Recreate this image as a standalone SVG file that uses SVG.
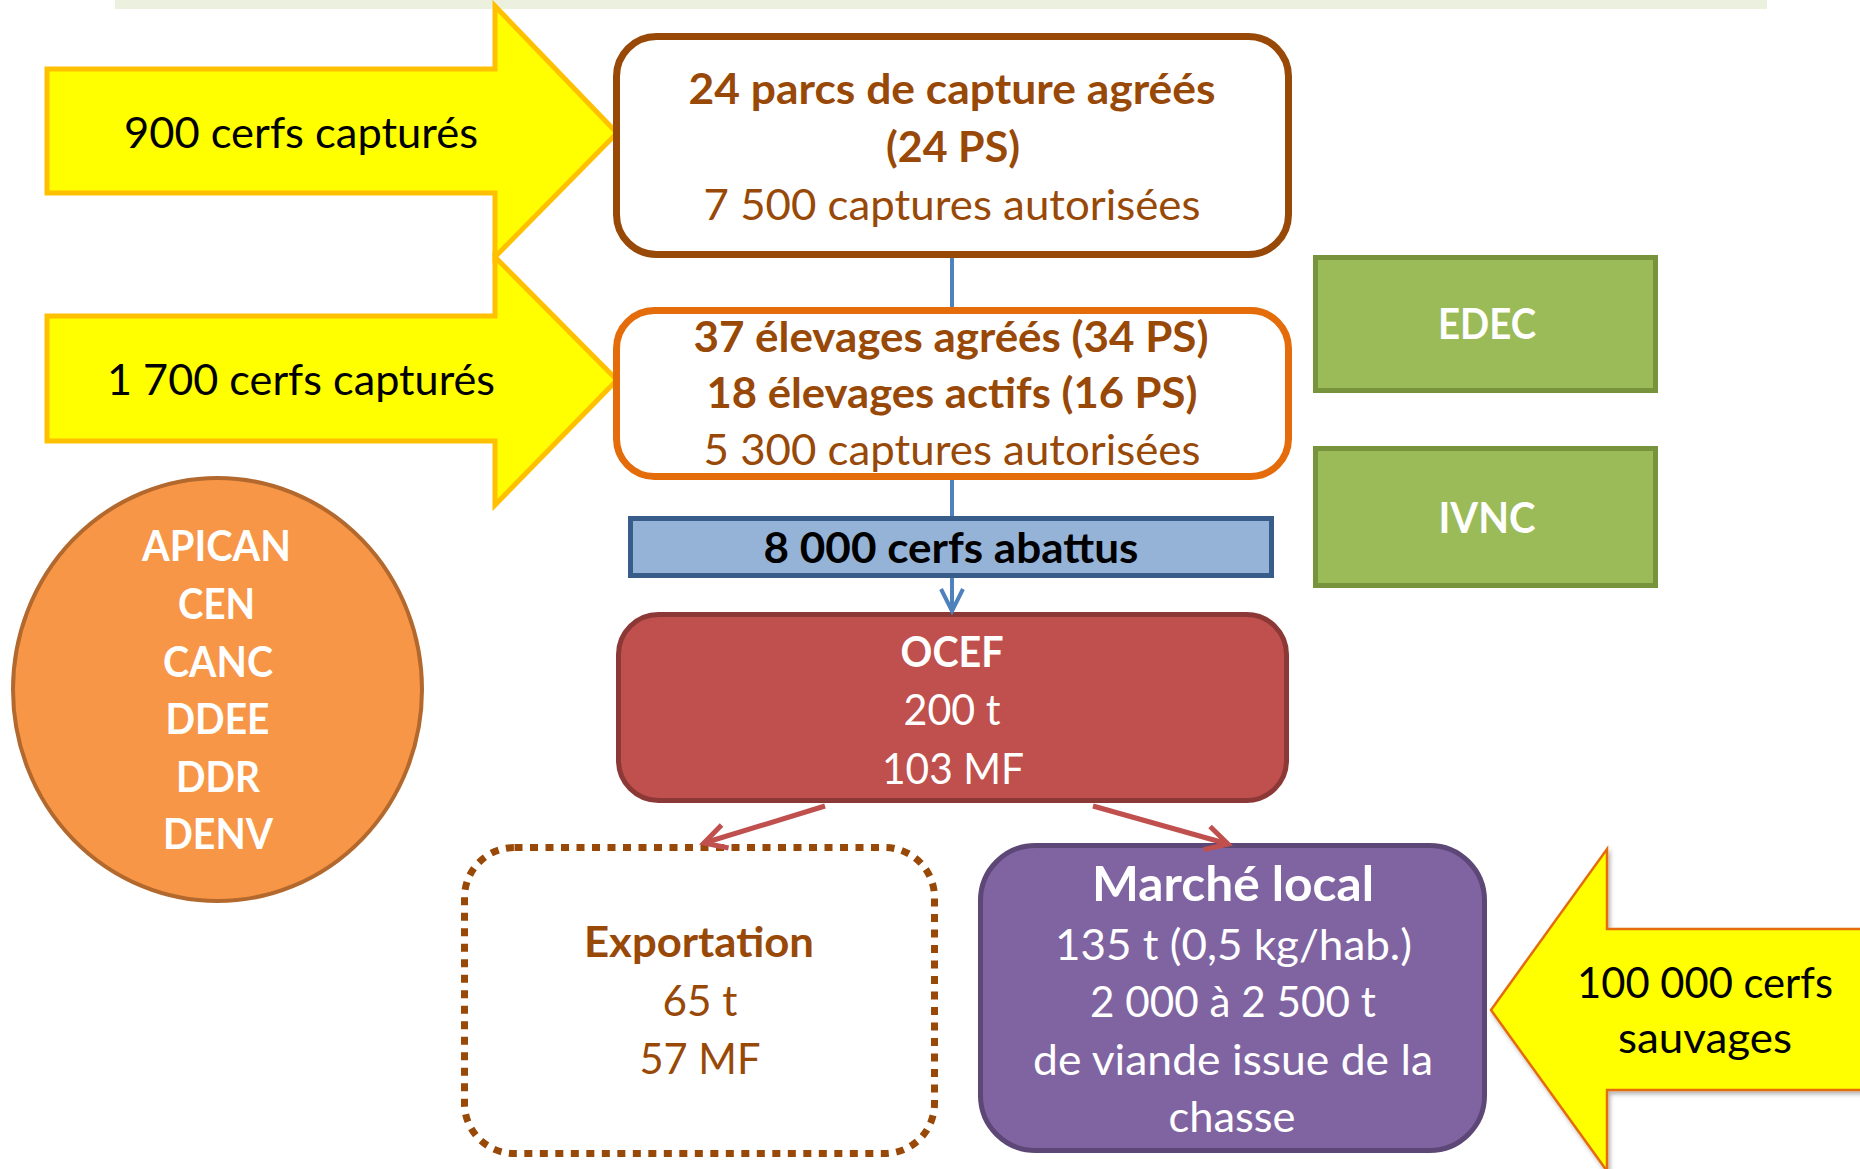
<svg xmlns="http://www.w3.org/2000/svg" width="1860" height="1169" viewBox="0 0 1860 1169">
<defs>
<style>
.t{font-family:Lato,'Liberation Sans',sans-serif;font-size:42px;text-anchor:middle;}
.b{font-weight:bold;}
.br{fill:#984807;}
.w{fill:#ffffff;}
.k{fill:#000000;}
.yarrow{fill:#FFFF00;stroke:#FFC000;stroke-width:5;stroke-linejoin:miter;}
.conn-blue{stroke:#4F81BD;stroke-width:4;fill:none;}
.conn-red{stroke:#C0504D;stroke-width:5;fill:none;}
</style>
<marker id="arrBlue" markerUnits="userSpaceOnUse" orient="auto" refX="0" refY="0" markerWidth="30" markerHeight="30" overflow="visible">
<path d="M-22,-11 L0,0 L-22,11" fill="none" stroke="#4F81BD" stroke-width="4"/>
</marker>
<marker id="arrRed" markerUnits="userSpaceOnUse" orient="auto" refX="0" refY="0" markerWidth="30" markerHeight="30" overflow="visible">
<path d="M-22,-12 L0,0 L-22,12" fill="none" stroke="#C0504D" stroke-width="5"/>
</marker>
<filter id="shadow" x="-10%" y="-10%" width="130%" height="130%">
<feDropShadow dx="2" dy="3" stdDeviation="2" flood-color="#000" flood-opacity="0.3"/>
</filter>
</defs>
<rect x="115" y="0" width="1652" height="9" fill="#EBF1DE"/>

<g id="arrow-900">
<polygon class="yarrow" points="47,69 495,69 495,6 617,133 495,257 495,193 47,193"/>
<text class="t k" x="301" y="148" textLength="354" lengthAdjust="spacingAndGlyphs">900 cerfs capturés</text>
</g>
<g id="arrow-1700">
<polygon class="yarrow" points="47,316 495,316 495,257 617,380 495,505 495,441 47,441"/>
<text class="t k" x="301" y="395" textLength="388" lengthAdjust="spacingAndGlyphs">1 700 cerfs capturés</text>
</g>
<g id="arrow-sauvages">
<polygon points="1491,1010 1607,849 1607,929 1875,929 1875,1090 1607,1090 1607,1171" fill="#FFFF00" stroke="#E46C0A" stroke-width="2.5" filter="url(#shadow)"/>
<text class="t k" x="1705" y="998" textLength="256" lengthAdjust="spacingAndGlyphs">100 000 cerfs</text>
<text class="t k" x="1705" y="1053" textLength="174" lengthAdjust="spacingAndGlyphs">sauvages</text>
</g>

<g id="parcs">
<rect x="616.5" y="36.5" width="672" height="218" rx="40" fill="#ffffff" stroke="#984807" stroke-width="7"/>
<text class="t b br" x="952" y="104" textLength="527" lengthAdjust="spacingAndGlyphs">24 parcs de capture agréés</text>
<text class="t b br" x="953" y="162" textLength="134" lengthAdjust="spacingAndGlyphs">(24 PS)</text>
<text class="t br" x="952" y="220" textLength="497" lengthAdjust="spacingAndGlyphs">7 500 captures autorisées</text>
</g>
<g id="elevages">
<rect x="616.5" y="310.5" width="672" height="166" rx="38" fill="#ffffff" stroke="#E46C0A" stroke-width="7"/>
<text class="t b br" x="951" y="352" textLength="515" lengthAdjust="spacingAndGlyphs">37 élevages agréés (34 PS)</text>
<text class="t b br" x="952" y="408" textLength="491" lengthAdjust="spacingAndGlyphs">18 élevages actifs (16 PS)</text>
<text class="t br" x="952" y="465" textLength="497" lengthAdjust="spacingAndGlyphs">5 300 captures autorisées</text>
</g>
<g id="abattus">
<rect x="630.5" y="518.5" width="641" height="57" fill="#95B3D7" stroke="#385D8A" stroke-width="5"/>
<text class="t b k" x="951" y="563" textLength="375" lengthAdjust="spacingAndGlyphs">8 000 cerfs abattus</text>
</g>
<g id="edec">
<rect x="1315.5" y="257.5" width="340" height="133" fill="#9BBB59" stroke="#77933C" stroke-width="5"/>
<text class="t b w" x="1487" y="339" textLength="98" lengthAdjust="spacingAndGlyphs">EDEC</text>
</g>
<g id="ivnc">
<rect x="1315.5" y="448.5" width="340" height="137" fill="#9BBB59" stroke="#77933C" stroke-width="5"/>
<text class="t b w" x="1487" y="533" textLength="97" lengthAdjust="spacingAndGlyphs">IVNC</text>
</g>
<g id="acteurs">
<ellipse cx="217.5" cy="689.5" rx="204.5" ry="211.5" fill="#F79646" stroke="#B3692D" stroke-width="4"/>
<text class="t b w" x="216.5" y="561" textLength="149" lengthAdjust="spacingAndGlyphs">APICAN</text>
<text class="t b w" x="216.5" y="619" textLength="77" lengthAdjust="spacingAndGlyphs">CEN</text>
<text class="t b w" x="218" y="677" textLength="110" lengthAdjust="spacingAndGlyphs">CANC</text>
<text class="t b w" x="217.5" y="734" textLength="104" lengthAdjust="spacingAndGlyphs">DDEE</text>
<text class="t b w" x="218" y="792" textLength="84" lengthAdjust="spacingAndGlyphs">DDR</text>
<text class="t b w" x="218" y="849" textLength="110" lengthAdjust="spacingAndGlyphs">DENV</text>
</g>
<g id="ocef">
<rect x="618.5" y="614.5" width="668" height="186" rx="40" fill="#C0504D" stroke="#8C3836" stroke-width="5"/>
<text class="t b w" x="952" y="667" textLength="103" lengthAdjust="spacingAndGlyphs">OCEF</text>
<text class="t w" x="952" y="725" textLength="97" lengthAdjust="spacingAndGlyphs">200 t</text>
<text class="t w" x="953" y="784" textLength="142" lengthAdjust="spacingAndGlyphs">103 MF</text>
</g>
<g id="exportation">
<rect x="464.5" y="847.5" width="470" height="306" rx="50" fill="#ffffff" stroke="#984807" stroke-width="7" stroke-dasharray="8 7.5"/>
<text class="t b br" x="699" y="957" textLength="230" lengthAdjust="spacingAndGlyphs">Exportation</text>
<text class="t br" x="700" y="1016" textLength="75" lengthAdjust="spacingAndGlyphs">65 t</text>
<text class="t br" x="700" y="1074" textLength="121" lengthAdjust="spacingAndGlyphs">57 MF</text>
</g>
<g id="marche-local">
<rect x="980.5" y="845.5" width="504" height="305" rx="55" fill="#8064A2" stroke="#5C4776" stroke-width="5"/>
<text class="t b w" x="1233" y="901" style="font-size:48px" textLength="282" lengthAdjust="spacingAndGlyphs">Marché local</text>
<text class="t w" x="1233.5" y="960" textLength="357" lengthAdjust="spacingAndGlyphs">135 t (0,5 kg/hab.)</text>
<text class="t w" x="1233" y="1017" textLength="286" lengthAdjust="spacingAndGlyphs">2 000 à 2 500 t</text>
<text class="t w" x="1233" y="1075" textLength="400" lengthAdjust="spacingAndGlyphs">de viande issue de la</text>
<text class="t w" x="1232" y="1132" textLength="127" lengthAdjust="spacingAndGlyphs">chasse</text>
</g>

<g id="connectors">
<line class="conn-blue" x1="952" y1="258" x2="952" y2="307"/>
<line class="conn-blue" x1="952" y1="480" x2="952" y2="516"/>
<line class="conn-blue" x1="952" y1="578" x2="952" y2="611" marker-end="url(#arrBlue)"/>
<line class="conn-red" x1="825" y1="806" x2="704" y2="843" marker-end="url(#arrRed)"/>
<line class="conn-red" x1="1093" y1="806" x2="1228" y2="844" marker-end="url(#arrRed)"/>
</g>
</svg>
